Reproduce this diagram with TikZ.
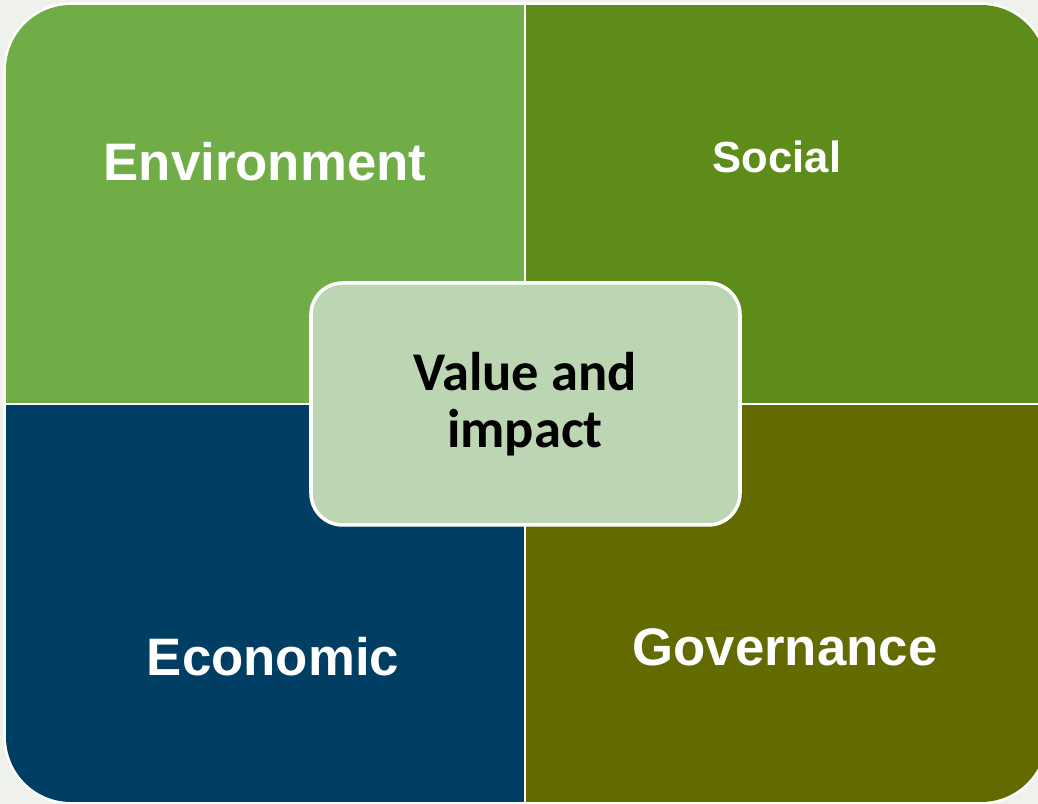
\documentclass[tikz,border=0pt]{standalone}
\usepackage{fontspec}
\usepackage{tikz}
\usetikzlibrary{positioning}
\newfontfamily\arialfont{Liberation Sans}
\newfontfamily\califont{Carlito}
\definecolor{envgreen}{HTML}{70AD47}
\definecolor{socgreen}{HTML}{5E8C1A}
\definecolor{ecoblue}{HTML}{003F63}
\definecolor{govolive}{HTML}{636B00}
\definecolor{valgreen}{HTML}{BCD5B2}
\definecolor{pagebg}{HTML}{EEF1EC}
\tikzstyle{lbl}=[text=white,font=\arialfont\bfseries\fontsize{15}{18}\selectfont]
\tikzstyle{cbox}=[draw=white,line width=1pt,fill=valgreen,rounded corners=9pt]

\begin{document}
\begin{tikzpicture}[x=0.01cm,y=-0.01cm]
  \useasboundingbox (0,0) rectangle (1038,804);
  \clip (0,0) rectangle (1038,804);
  \fill[pagebg] (0,0) rectangle (1038,804);
  % the four fields
  \draw[white,line width=1.5pt,rounded corners=18.5pt] (6,5) rectangle (1046,802);
  \begin{scope}
    \clip[rounded corners=18.5pt] (6,5) rectangle (1046,802);
    \fill[envgreen] (6,5) rectangle (525,404);
    \fill[socgreen] (525,5) rectangle (1046,404);
    \fill[ecoblue] (6,404) rectangle (525,802);
    \fill[govolive] (525,404) rectangle (1046,802);
    \draw[white,line width=0.6pt] (525,5) -- (525,802);
    \draw[white,line width=0.6pt] (6,404) -- (1046,404);
  \end{scope}
  \node[lbl] (env) at (265,162) {Environment};
  \node[lbl,font=\arialfont\bfseries\fontsize{12.4}{15}\selectfont] (soc) at (777,157) {Social};
  \node[lbl] (eco) at (273,657) {Economic};
  \node[lbl] (gov) at (785,647) {Governance};
  % centre
  \draw[cbox] (311,283) rectangle (740,525);
  \node[align=center,font=\califont\bfseries\fontsize{15.5}{16.2}\selectfont] (val) at (525,404) {Value and\\impact};
\end{tikzpicture}
\end{document}
